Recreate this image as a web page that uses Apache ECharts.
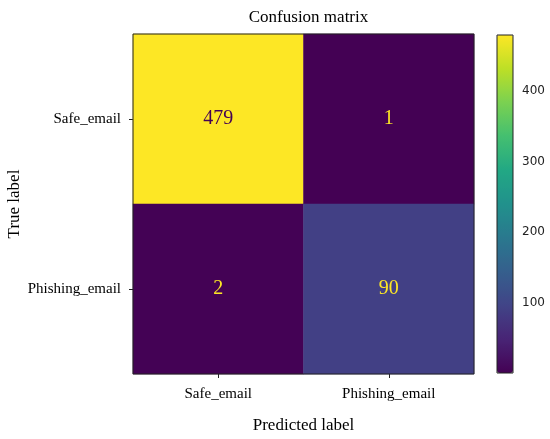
<!DOCTYPE html>
<html><head><meta charset="utf-8">
<script src="https://cdn.jsdelivr.net/npm/echarts@6/dist/echarts.min.js"></script>
<style>html,body{margin:0;padding:0;background:#fff}#c{width:550px;height:439px}</style>
</head><body><div id="c"></div>
<script>
var predictedLabels = ['Safe_email', 'Phishing_email'];
var trueLabels = ['Safe_email', 'Phishing_email'];
var matrixValues = [[479, 1], [2, 90]];
var colorbarTicks = [100, 200, 300, 400];
var viridis = ['#440154','#482475','#414487','#355f8d','#2a788e','#21918c','#22a884','#44bf70','#7ad151','#bddf26','#fde725'];

var vmin = 1, vmax = 479;
var data = [];
for (var r = 0; r < trueLabels.length; r++) {
  for (var c = 0; c < predictedLabels.length; c++) {
    var v = matrixValues[r][c];
    var bright = (v - vmin) / (vmax - vmin) > 0.5;
    data.push({value: [c, r, v], label: {color: bright ? '#440154' : '#fde725'}});
  }
}
var serif = '"Liberation Serif", "Times New Roman", serif';
var chart = echarts.init(document.getElementById('c'));
chart.setOption({
  animation: false,
  backgroundColor: '#fff',
  title: {text: 'Confusion matrix', left: 303.5, textAlign: 'center', top: 4,
    textStyle: {fontFamily: serif, fontWeight: 'normal', fontSize: 17, color: '#000'}},
  grid: [
    {left: 133, top: 34, width: 341, height: 340, show: true, borderColor: '#222', borderWidth: 1, backgroundColor: 'transparent', z: 5, containLabel: false, outerBoundsMode: 'none'},
    {left: 497, top: 35, width: 16, height: 338, show: true, borderColor: '#222', borderWidth: 1, backgroundColor: 'transparent', z: 10, containLabel: false, outerBoundsMode: 'none'}
  ],
  xAxis: [
    {type: 'category', data: predictedLabels, gridIndex: 0,
     name: 'Predicted label', nameLocation: 'middle', nameGap: 43, nameMoveOverlap: false,
     nameTextStyle: {fontFamily: serif, fontSize: 17, color: '#000'},
     axisLine: {show: false}, axisTick: {show: true, alignWithLabel: true, length: 4, lineStyle: {color: '#222'}},
     axisLabel: {fontFamily: serif, fontSize: 15, color: '#000', margin: 13}, splitLine: {show: false}},
    {type: 'value', gridIndex: 1, show: false, min: 0, max: 1}
  ],
  yAxis: [
    {type: 'category', data: trueLabels, gridIndex: 0, inverse: true,
     name: 'True label', nameLocation: 'middle', nameGap: 110, nameMoveOverlap: false,
     nameTextStyle: {fontFamily: serif, fontSize: 17, color: '#000'},
     axisLine: {show: false}, axisTick: {show: true, alignWithLabel: true, length: 4, lineStyle: {color: '#222'}},
     axisLabel: {fontFamily: serif, fontSize: 15, color: '#000', margin: 12}, splitLine: {show: false}},
    {type: 'value', gridIndex: 1, position: 'right', min: vmin, max: vmax,
     axisLine: {show: false}, splitLine: {show: false},
     axisTick: {show: true, length: 4, customValues: colorbarTicks, lineStyle: {color: '#222'}},
     axisLabel: {show: true, customValues: colorbarTicks, fontFamily: '"DejaVu Sans", sans-serif', fontSize: 12, color: '#222', margin: 9}}
  ],
  visualMap: {
    type: 'continuous', min: vmin, max: vmax, seriesIndex: 0, calculable: false,
    left: 497, top: 35, itemWidth: 16, itemHeight: 338, padding: 0, text: null, showLabel: false,
    inRange: {color: viridis}, hoverLink: false
  },
  series: [{
    type: 'heatmap', xAxisIndex: 0, yAxisIndex: 0, data: data,
    label: {show: true, formatter: function (p) { return p.value[2]; }, fontFamily: serif, fontSize: 20},
    emphasis: {disabled: true}
  }]
});
</script></body></html>
